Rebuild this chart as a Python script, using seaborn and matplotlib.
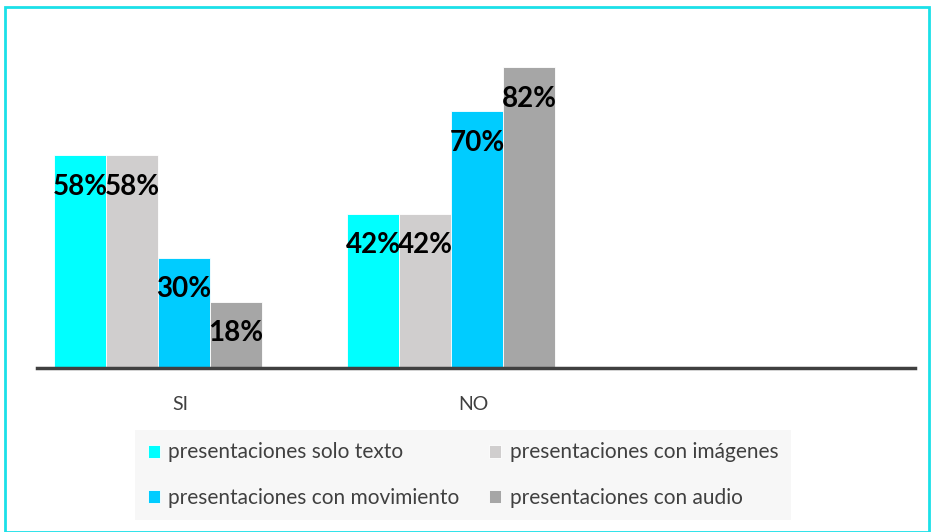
import pandas as pd
import matplotlib.pyplot as plt
import matplotlib.transforms as mtransforms
from matplotlib.patches import Rectangle
import seaborn as sns

# Datos del gráfico
categorias = ["SI", "NO"]
series = ["presentaciones solo texto", "presentaciones con imágenes",
          "presentaciones con movimiento", "presentaciones con audio"]
solo_texto = [0.58, 0.42]
con_imagenes = [0.58, 0.42]
con_movimiento = [0.30, 0.70]
con_audio = [0.18, 0.82]
colores = ["#00FFFF", "#D0CECE", "#00CCFF", "#A6A6A6"]

filas = []
for serie, valores in zip(series, [solo_texto, con_imagenes, con_movimiento, con_audio]):
    for cat, v in zip(categorias, valores):
        filas.append({"categoria": cat, "serie": serie, "valor": v})
df = pd.DataFrame(filas)

sns.set_style("white")
plt.rcParams['font.family'] = ['Lato', 'DejaVu Sans']

fig = plt.figure(figsize=(9.36, 5.32), dpi=100)
ax = fig.add_axes([37/936, 164/532, 878/936, 330/532])

sns.barplot(data=df, x="categoria", y="valor", hue="serie", order=categorias,
            hue_order=series, palette=colores, width=0.71, gap=0,
            saturation=1, edgecolor="white", linewidth=0.6, ax=ax, legend=True)

ax.set_xlim(-0.413, 2.584)
ax.set_ylim(0, 0.9)
ax.set_xlabel("")
ax.set_ylabel("")
ax.set_yticks([])
for lado in ["top", "right", "left"]:
    ax.spines[lado].set_visible(False)
ax.spines["bottom"].set_color("#404040")
ax.spines["bottom"].set_linewidth(2.5)

# etiquetas del eje x un poco desplazadas a la derecha
ax.set_xticks(range(len(categorias)))
ax.set_xticklabels(categorias, fontsize=14, color="#404040")
ax.tick_params(axis="x", length=0, pad=20)
desplazar = mtransforms.ScaledTranslation(22/100, 0, fig.dpi_scale_trans)
for lbl in ax.get_xticklabels():
    lbl.set_transform(lbl.get_transform() + desplazar)

# etiquetas de valor dentro de cada barra
for cont in ax.containers:
    ax.bar_label(cont, labels=[f"{v*100:.0f}%" for v in cont.datavalues],
                 label_type="edge", padding=-32, fontsize=20,
                 fontweight="bold", color="black")

# orden de la leyenda por filas, como en el original
handles, labels = ax.get_legend_handles_labels()
orden = [0, 2, 1, 3]
ax.legend([handles[i] for i in orden], [labels[i] for i in orden],
          loc="lower left", bbox_to_anchor=(135/936, 12/532),
          bbox_transform=fig.transFigure, ncol=2,
          frameon=True, fancybox=False, facecolor="#F5F5F5", edgecolor="none",
          fontsize=15, labelcolor="#404040", handlelength=0.6,
          handleheight=0.6, handletextpad=0.4, labelspacing=1.2,
          borderpad=0.6, borderaxespad=0, columnspacing=1.4)

# marco cian alrededor de la figura
fig.patches.append(Rectangle((5/936, 0), 924/936, 525/532, transform=fig.transFigure,
                             fill=False, edgecolor="#1BE0E8", linewidth=2))

fig.savefig("out.png", dpi=100)
